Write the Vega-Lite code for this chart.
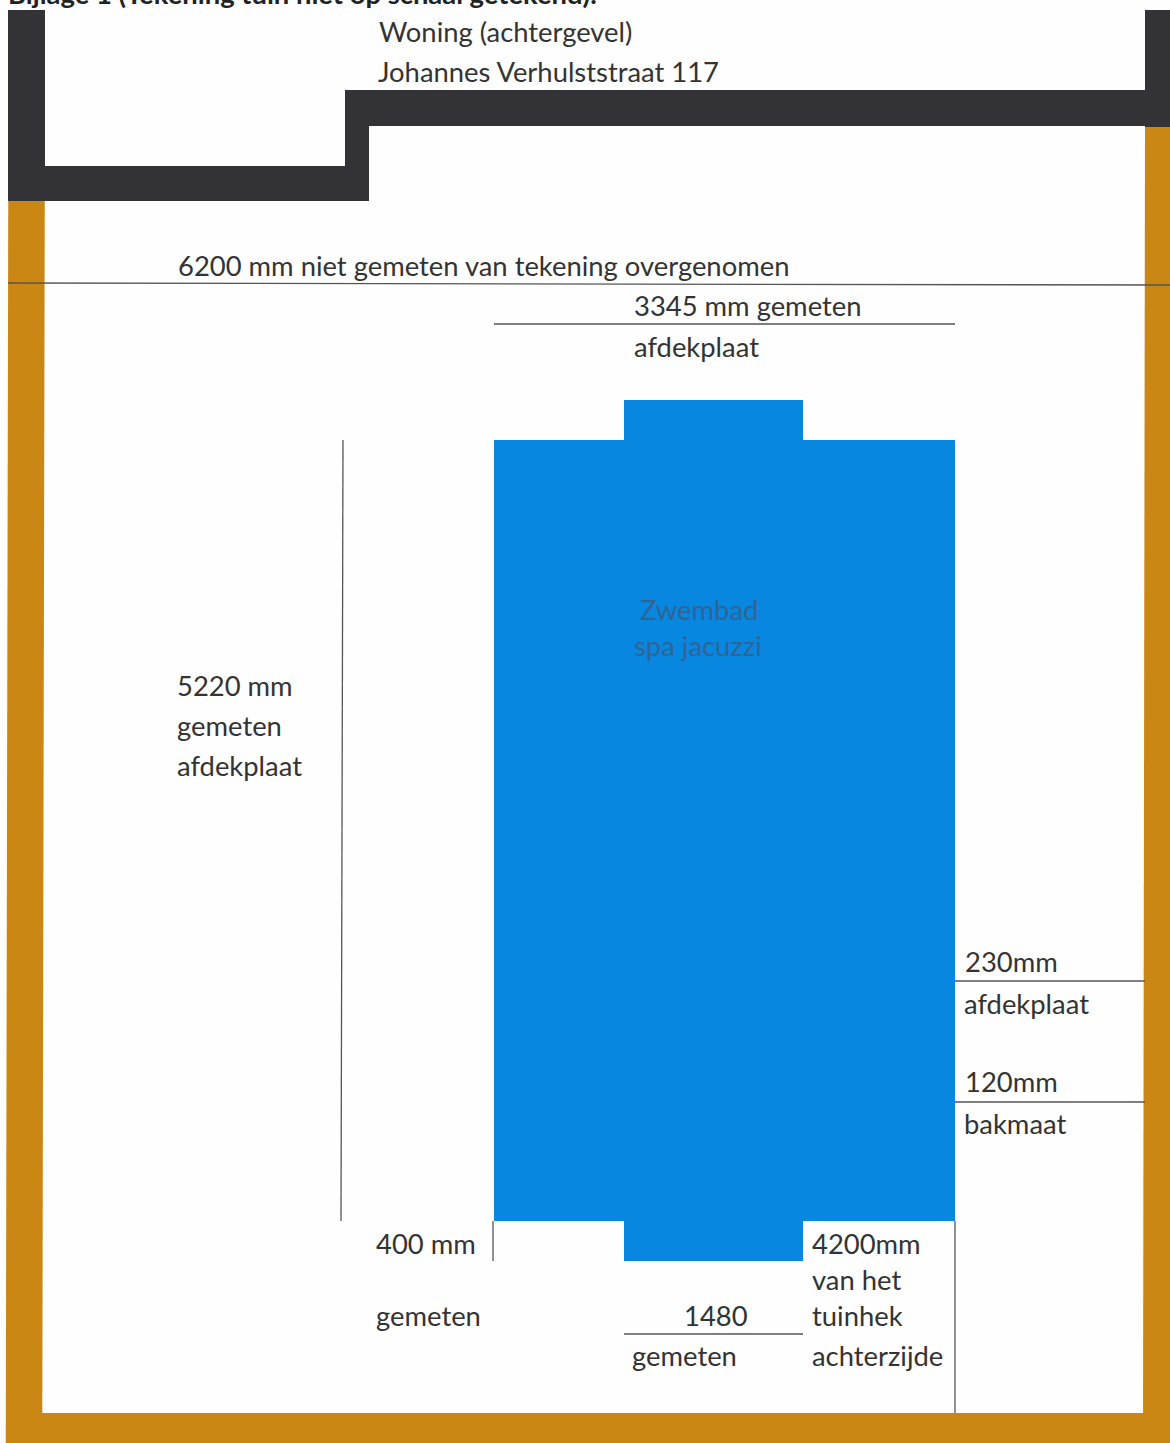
{"$schema":"https://vega.github.io/schema/vega-lite/v6.json","width":1170,"height":1443,"padding":0,"autosize":{"type":"none"},"background":"#fefefe","config":{"view":{"stroke":null}},
"datasets":{
"fence":[
{"side":"links","x":26.5,"y":200},
{"side":"links","x":24,"y":1443},
{"side":"rechts","x":1160,"y":125},
{"side":"rechts","x":1158,"y":1443}],
"areas":[
{"part":"hek","x0":6,"x1":1170,"y0":1413,"y1":1443},
{"part":"woning","x0":8,"x1":45,"y0":10,"y1":201},
{"part":"woning","x0":45,"x1":369,"y0":166,"y1":201},
{"part":"woning","x0":345,"x1":369,"y0":90,"y1":201},
{"part":"woning","x0":345,"x1":1146,"y0":90,"y1":126},
{"part":"woning","x0":1145,"x1":1170,"y0":10,"y1":127},
{"part":"bad","x0":494,"x1":955,"y0":440,"y1":1221},
{"part":"bad","x0":624,"x1":803,"y0":400,"y1":441},
{"part":"bad","x0":624,"x1":803,"y0":1220,"y1":1261}],
"lines":[
{"maat":"6200","x0":8,"x1":1170,"y0":283,"y1":285},
{"maat":"3345","x0":494,"x1":955,"y0":324,"y1":324},
{"maat":"5220","x0":343,"x1":341,"y0":440,"y1":1221},
{"maat":"230","x0":955,"x1":1145,"y0":981,"y1":981},
{"maat":"120","x0":955,"x1":1145,"y0":1102,"y1":1102},
{"maat":"400","x0":493,"x1":493,"y0":1221,"y1":1261},
{"maat":"1480","x0":624,"x1":803,"y0":1334,"y1":1334},
{"maat":"4200","x0":955,"x1":955,"y0":1221,"y1":1413}],
"labels":[
{"label":"Woning (achtergevel)","x":379,"y":42,"kind":"tekst"},
{"label":"Johannes Verhulststraat 117","x":378,"y":82,"kind":"tekst"},
{"label":"6200 mm niet gemeten van tekening overgenomen","x":178,"y":276,"kind":"tekst"},
{"label":"3345 mm gemeten","x":634,"y":316,"kind":"tekst"},
{"label":"afdekplaat","x":634,"y":357,"kind":"tekst"},
{"label":"Zwembad","x":640,"y":620,"kind":"bad"},
{"label":"spa jacuzzi","x":634,"y":656,"kind":"bad"},
{"label":"5220 mm","x":177,"y":696,"kind":"tekst"},
{"label":"gemeten","x":177,"y":736,"kind":"tekst"},
{"label":"afdekplaat","x":177,"y":776,"kind":"tekst"},
{"label":"230mm","x":965,"y":972,"kind":"tekst"},
{"label":"afdekplaat","x":964,"y":1014,"kind":"tekst"},
{"label":"120mm","x":965,"y":1092,"kind":"tekst"},
{"label":"bakmaat","x":964,"y":1134,"kind":"tekst"},
{"label":"400 mm","x":376,"y":1254,"kind":"tekst"},
{"label":"gemeten","x":376,"y":1326,"kind":"tekst"},
{"label":"1480","x":684,"y":1326,"kind":"tekst"},
{"label":"gemeten","x":632,"y":1366,"kind":"tekst"},
{"label":"4200mm","x":812,"y":1254,"kind":"tekst"},
{"label":"van het","x":812,"y":1290,"kind":"tekst"},
{"label":"tuinhek","x":812,"y":1326,"kind":"tekst"},
{"label":"achterzijde","x":812,"y":1366,"kind":"tekst"}],
"heading":[{"label":"Bijlage 1 (Tekening tuin niet op schaal getekend):","x":8,"y":4}]
},
"layer":[
{"data":{"name":"fence"},"transform":[{"filter":"datum.side==='links'"}],"mark":{"type":"line","color":"#CB8714","strokeWidth":36.5,"strokeCap":"butt"},"encoding":{
"x":{"field":"x","type":"quantitative","scale":{"domain":[0,1170],"nice":false,"zero":false},"axis":null},
"y":{"field":"y","type":"quantitative","scale":{"domain":[1443,0],"nice":false,"zero":false},"axis":null}}},
{"data":{"name":"fence"},"transform":[{"filter":"datum.side==='rechts'"}],"mark":{"type":"line","color":"#CB8714","strokeWidth":30,"strokeCap":"butt"},"encoding":{
"x":{"field":"x","type":"quantitative"},"y":{"field":"y","type":"quantitative"}}},
{"data":{"name":"areas"},"mark":{"type":"rect"},"encoding":{
"x":{"field":"x0","type":"quantitative"},
"x2":{"field":"x1"},
"y":{"field":"y0","type":"quantitative"},
"y2":{"field":"y1"},
"color":{"field":"part","type":"nominal","legend":null,"scale":{"domain":["hek","woning","bad"],"range":["#CB8714","#333337","#0787E0"]}}}},
{"data":{"name":"lines"},"mark":{"type":"rule","color":"#555555","strokeWidth":1.3},"encoding":{
"x":{"field":"x0","type":"quantitative"},"x2":{"field":"x1"},
"y":{"field":"y0","type":"quantitative"},"y2":{"field":"y1"}}},
{"data":{"name":"labels"},"mark":{"type":"text","font":"Lato","fontSize":27.4,"align":"left","baseline":"alphabetic"},"encoding":{
"x":{"field":"x","type":"quantitative"},"y":{"field":"y","type":"quantitative"},"text":{"field":"label"},
"color":{"field":"kind","type":"nominal","legend":null,"scale":{"domain":["tekst","bad"],"range":["#333333","#2F6595"]}}}},
{"data":{"name":"heading"},"mark":{"type":"text","font":"Lato","fontSize":27.4,"fontWeight":"bold","align":"left","baseline":"alphabetic","color":"#222222"},"encoding":{
"x":{"field":"x","type":"quantitative"},"y":{"field":"y","type":"quantitative"},"text":{"field":"label"}}}
],
"resolve":{"scale":{"color":"independent"}}}
